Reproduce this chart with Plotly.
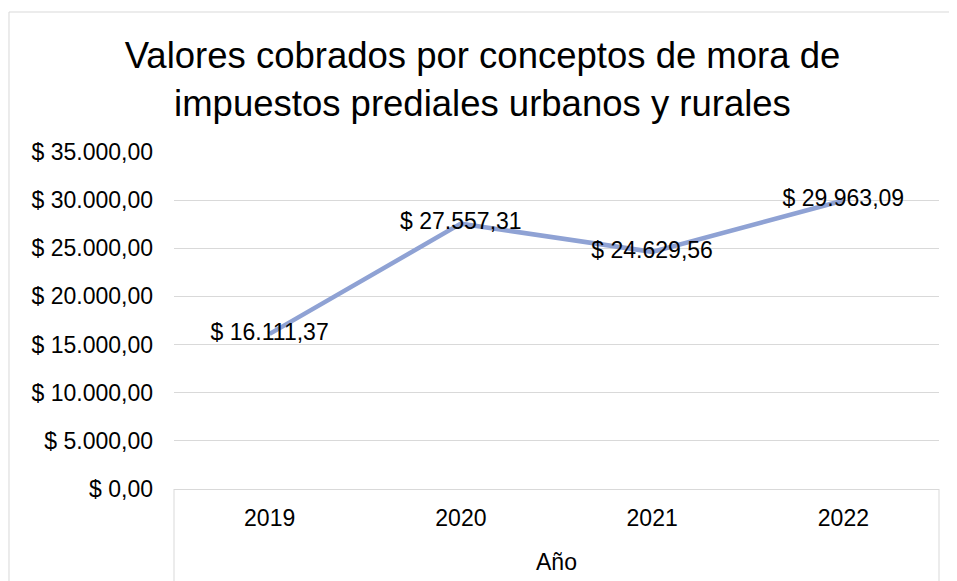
# Línea: valores cobrados por mora de impuestos prediales (2019-2022)

import plotly.graph_objects as go

anios = ["2019", "2020", "2021", "2022"]
valores = [16111.37, 27557.31, 24629.56, 29963.09]
y_ticks = [0, 5000, 10000, 15000, 20000, 25000, 30000, 35000]

GRID = "#D9D9D9"
FONT = "Liberation Sans, Arial, sans-serif"


def pesos(v):
    # formato colombiano: miles con punto, decimales con coma
    s = f"{v:,.2f}".replace(",", "X").replace(".", ",").replace("X", ".")
    return "$ " + s


fig = go.Figure(
    go.Scatter(
        x=anios,
        y=valores,
        mode="lines+text",
        line=dict(color="#8FA2D4", width=4.5),
        text=[pesos(v) for v in valores],
        textposition="middle center",
        textfont=dict(size=23, color="#000000"),
        hoverinfo="skip",
    )
)

# la página tiene 8px de margen en body, por eso 949x573
fig.update_layout(
    width=949,
    height=573,
    margin=dict(l=166, r=18, t=144, b=92),
    paper_bgcolor="white",
    plot_bgcolor="white",
    showlegend=False,
    font=dict(family=FONT, size=23, color="#000000"),
    title=dict(
        text="Valores cobrados por conceptos de mora de<br>impuestos prediales urbanos y rurales",
        x=0.5,
        xanchor="center",
        yref="container",
        y=0.895,
        yanchor="top",
        font=dict(size=36.5, color="#000000"),
    ),
)

fig.update_yaxes(
    range=[0, 35000],
    tickvals=y_ticks,
    ticktext=[pesos(v) for v in y_ticks],
    gridcolor=GRID,
    gridwidth=1,
    zeroline=False,
    showline=False,
    ticklabelstandoff=20,
)

fig.update_xaxes(
    type="category",
    range=[-0.5, 3.5],
    showgrid=False,
    showline=True,
    linecolor=GRID,
    linewidth=1,
    ticks="",
    ticklabelstandoff=8,
)

# caja del eje de categorías (se corta en el borde inferior)
for xp in (0, 1):
    fig.add_shape(
        type="line", xref="paper", yref="paper",
        x0=xp, x1=xp, y0=0, y1=-0.3,
        line=dict(color=GRID, width=1),
    )

# borde exterior del gráfico: solo arriba e izquierda se ven
fig.add_shape(
    type="line", xref="paper", yref="paper",
    x0=-0.2157, x1=1.08, y0=1.4154, y1=1.4154,
    line=dict(color=GRID, width=1), layer="below",
)
fig.add_shape(
    type="line", xref="paper", yref="paper",
    x0=-0.2157, x1=-0.2157, y0=-0.3, y1=1.4154,
    line=dict(color=GRID, width=1), layer="below",
)

fig.add_annotation(
    text="Año", xref="paper", yref="paper",
    x=0.5, y=-0.2166, xanchor="center", yanchor="middle",
    showarrow=False, font=dict(size=23, color="#000000"),
)

fig.write_html("out.html")
